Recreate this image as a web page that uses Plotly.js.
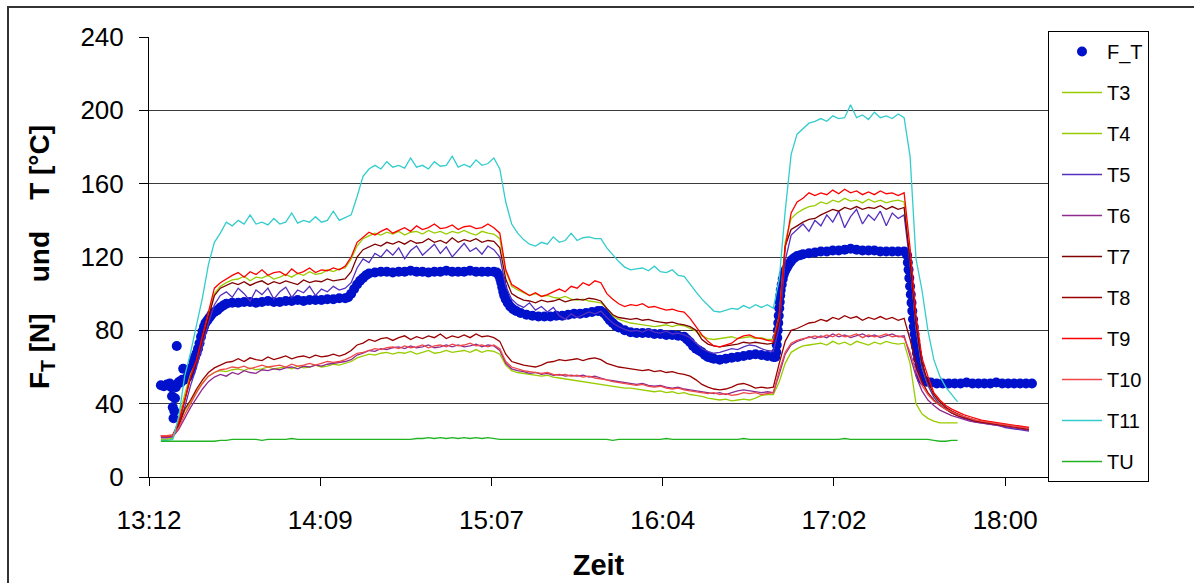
<!DOCTYPE html>
<html>
<head>
<meta charset="utf-8">
<script src="https://cdn.plot.ly/plotly-3.0.1.min.js"></script>
<style>
html, body { margin: 0; padding: 0; background: #ffffff; }
#chart { width: 1194px; height: 583px; }
</style>
</head>
<body>
<div id="chart"></div>
<script>
// ---- Zeitraster der Temperaturmessungen (alle 2 min) ----
const zeit = [
  '13:16','13:18','13:20','13:22','13:24','13:26','13:28','13:30','13:32','13:34',
  '13:36','13:38','13:40','13:42','13:44','13:46','13:48','13:50','13:52','13:54',
  '13:56','13:58','14:00','14:02','14:04','14:06','14:08','14:10','14:12','14:14',
  '14:16','14:18','14:20','14:22','14:24','14:26','14:28','14:30','14:32','14:34',
  '14:36','14:38','14:40','14:42','14:44','14:46','14:48','14:50','14:52','14:54',
  '14:56','14:58','15:00','15:02','15:04','15:06','15:08','15:10','15:12','15:14',
  '15:16','15:18','15:20','15:22','15:24','15:26','15:28','15:30','15:32','15:34',
  '15:36','15:38','15:40','15:42','15:44','15:46','15:48','15:50','15:52','15:54',
  '15:56','15:58','16:00','16:02','16:04','16:06','16:08','16:10','16:12','16:14',
  '16:16','16:18','16:20','16:22','16:24','16:26','16:28','16:30','16:32','16:34',
  '16:36','16:38','16:40','16:42','16:44','16:46','16:48','16:50','16:52','16:54',
  '16:56','16:58','17:00','17:02','17:04','17:06','17:08','17:10','17:12','17:14',
  '17:16','17:18','17:20','17:22','17:24','17:26','17:28','17:30','17:32','17:34',
  '17:36','17:38','17:40','17:42','17:44','17:46','17:48','17:50','17:52','17:54',
  '17:56','17:58','18:00','18:02','18:04','18:06','18:08'
];

const T3 = [
  20.5,20.5,21,32,45,56,63,76,89,100,
  104,106,107.5,108,109.5,107,109,108.5,110,108,
  109,110.5,109,111,110,112,110.5,111,113,112,
  113.5,114,119,126,130,131.5,133,132,133.5,132.5,
  134,132,133.5,134,132.5,134.5,133,134,132.5,134,
  133,134.5,133,132,134,133,132.5,130,112,104,
  102,100.5,99,100,98.5,99,98,97.5,98.5,97,
  96.5,97,96,95.5,95,92,88,86,85,84,
  83.5,83,82.5,82,82.5,83,82,83,82.5,81,
  79.5,77,75.5,75,75.5,76,76.5,75.5,76,76.5,
  75.5,76,75,75,88,128,141,144,146,147.5,
  148,150,149,151,150,152,150.5,151,149.5,151.5,
  150,151,149.5,150.5,151,150,118,82,60,50,
  44,40,37,35,33.5
];

const T4 = [
  20.5,20.5,21,29,36,41,47,51.5,55,57,
  58,57.5,58.5,59,58,59.5,58.5,59,60,59,
  59.5,60,59,60.5,59.5,60,61,60,60.5,61.5,
  61,62,63,65,66,67,66.5,67.5,68,67,
  68,67.5,68.5,67,68,69,67.5,68,69,68,
  68.5,69,68,69.5,68,69,68.5,67,61,58,
  57,56.5,56,55.5,55,55.5,54.5,54,53.5,53,
  52.5,52,51.5,51,50.5,50,49.5,49,48.5,48.5,
  48,47.5,47,46.5,47,46,46.5,45.5,46,45,
  44.5,44,43,42.5,42,42.5,41.5,42,42.5,42,
  43,44.5,45,45,52,62,68,70,71.5,72,
  72.5,73,72,74,72.5,73.5,72,74,73,72,
  73.5,72.5,74,73,72.5,73,62,40,34.5,32,
  30.5,29.5,29.5,29.5,29.5
];

const T5 = [
  21.5,21.5,22,28,38,50,60,72,84,94,
  99,101,98,103,100,96,102,99.5,103,97,
  101,103.5,98,102,100.5,104,99,102.5,101,104,
  102,103,106,114,119,117,122,120,124,121,
  125,119,123.5,126,121,124,127,122,125.5,120,
  124,127.5,123,125,121.5,126,124,120,104,97,
  94,92.5,95,91,93,90,92.5,88,86,89,
  87,88.5,90,89,90.5,87,84,82,80.5,79.5,
  80,79,80.5,79,78.5,79.5,78,78.5,77.5,76,
  73,70,68.5,67.5,68,69,70,69.5,71,72,
  71.5,70,69,68.5,82,118,132,135,138,134,
  140,137,143,139,145,136,142,146,138,143,
  140,145,137,144,141,143,116,82,60,50,
  43.5,39.5,37,35,33.5,32,31,30,29.5,29,
  28.5,28,27,26.5,26,25.5,25
];

const T6 = [
  21.5,21.5,22,26,32,38,43,48,52,54.5,
  56,55,57,56,58,57,56.5,58.5,58,59,
  58.5,59.5,60,59,60.5,60,61,60.5,61.5,62,
  62.5,63,64,66.5,67.5,69,68.5,70,69.5,70.5,
  71,70,71.5,70.5,71,72,70.5,71,72,71,
  72,71,71.5,72.5,71,72,71.5,69,62,59,
  58,57.5,56.5,57,56,56.5,55.5,56,55,55.5,
  55,55.5,54.5,55,54,53,52.5,52,51.5,51,
  50.5,51,50,49.5,50,49,48.5,49,48,47.5,
  47,46.5,46,45.5,46,45,46,47,47.5,47,
  46.5,46,46.5,46,56,67,72,74,75,76.5,
  75.5,77,76,78,76.5,77.5,76,77,78,76.5,
  77.5,76,77,78,76.5,77,66,55,47,42,
  39,36.5,35,33.5,32.5,31.5,30.5,30,29.5,29,
  28.5,28,27.5,27,26.5,26,25.5
];

const T7 = [
  22.5,22.5,22.5,29,41,54,63,75,88,99,
  103,104.5,106,105,106.5,104.5,106,107,105,106.5,
  105.5,107,106,105,107.5,106,107,106.5,108,107,
  107.5,108,112,120,124,125.5,127,126,128,127,
  128.5,127,129,127.5,128,130,128,129,127.5,130.5,
  128,129.5,128.5,130,128,129,128.5,125,108,100,
  98,96.5,96,95,96.5,95.5,96,97,95.5,96.5,
  97,96.5,97.5,97,96,92,88.5,87,86.5,86,
  86.5,85.5,86,85,84.5,84,84.5,83.5,83,82,
  80,75,72.5,71.5,71,71.5,72,72.5,73.5,73,
  73.5,73,72.5,73,85,126,135,137,139,140.5,
  141,143,144.5,146,145,147,146,147.5,146,147,
  146.5,148,146,147.5,146,147,118,84,62,52,
  45,41,38,36,34.5,33,32,31,30.5,30,
  29.5,29,28.5,28,27.5,27,26.5
];

const T8 = [
  22.5,22.5,22.5,28,37,42,48,53,57,59.5,
  61,62.5,63,64.5,63,65,64,63.5,65.5,64,
  65,66,64.5,65.5,66,65,66.5,65.5,66,67,
  66,67,69,72,73,75,74,75.5,76,74.5,
  76,77,75,76.5,75.5,77,76,78,75.5,77,
  76,77.5,76,78,76.5,77,76,74,67,63,
  62,61,60.5,60,61,62.5,63,64,63.5,64,
  64.5,63.5,64.5,65,64,62,61,60,59.5,59,
  58.5,58,58.5,57.5,58,57,57.5,56.5,56,55,
  53,50.5,49,48,47.5,48,49,50.5,51,50,
  48.5,49,48.5,49,62,74,80,81,82.5,84,
  84.5,86,85,87,86,88,86.5,87.5,85.5,87,
  86,87.5,86,87,85.5,86.5,75,62,52,46,
  42,39,37,35,33.5,32.5,31.5,30.5,30,29.5,
  29,28.5,28,27.5,27,26.5,26
];

const T9 = [
  22.5,22.5,23,30,42,55,64,77,90,103,
  106,108,110,111.5,109,112,110.5,113,110,111.5,
  112,110,113.5,111,112,114,111.5,113,112.5,114,
  113,115,120,128,131,133.5,132,134,135.5,133,
  134.5,136,134,137,135,136,138,135.5,136,137.5,
  135,136.5,137,135.5,136,138,136,133,113,105,
  103,101,99,100.5,98.5,99.5,101,102.5,101,104,
  103,106,104.5,107,106,100,97,94.5,93,94,
  93.5,94.5,92.5,93,92,91,91.5,90.5,90,86.5,
  82,77.5,74,71.5,71,72,73,75.5,77,77.5,
  76,75.5,74.5,74,88,125,144,150,152,155,
  153.5,155,154,156.5,154.5,157,155,156,154,155.5,
  154,156,154.5,155,153.5,155,125,88,65,55,
  46,42,39,37,35.5,34,33,32,31,30.5,
  30,29.5,29,28.5,28,27.5,27
];

const T10 = [
  22.5,22.5,22.5,27,34,40,46,51,55,57,
  58.5,59,60,59.5,60.5,59,60,61,60,60.5,
  61,60,61.5,60.5,61,62,61,62,63,62.5,
  63,64,65.5,67.5,68,69,70,69.5,70.5,71,
  70,71.5,70.5,71,72,70.5,71.5,72,71,72.5,
  71.5,72,73,71.5,72,71,72,70,63,60,
  59,58,57.5,57,56.5,57,56,55.5,56,55,
  55.5,54.5,55,54,53.5,53,52,51.5,51,50.5,
  50,50.5,49.5,49,49.5,48.5,48,48.5,47.5,47,
  46.5,46,45.5,46,45,45.5,44.5,45,46,45.5,
  46,45,45.5,46,58,68,73,74.5,75.5,76,
  77,76,77.5,76.5,78,76.5,77,78,76,77.5,
  76.5,77,78,76.5,77,76,68,58,50,45,
  41.5,39,37,35.5,34,33,32,31,30.5,30,
  29.5,29,28.5,28,27.5,27,26.5
];

const T11 = [
  20,20,20.5,33,55,68,83,98,116,128,
  133,139,137,140,138,143,138,139,137.5,141,
  138,139,144,138.5,140,139,142,139,140,145,
  140,141.5,143,153,164,168,170,168,172,169,
  170,168.5,174,169,170,168,172,169.5,170,175,
  169,170.5,169,173,170,171,174,168,150,138,
  133,129.5,127,126,128,127,131,128,129,133,
  129,130.5,131,130,130,125,121,117.5,114.5,113,
  113.5,114,112.5,115,112,111.5,113,110,109.5,105,
  101,97,94,90.5,90,91,92,91.5,93.5,92,
  94,92.5,94,92,108,145,176,187,190,193,
  194,195.5,194,197,195.5,196,203,196,197.5,195,
  199,196,197,195.5,198,196,175,119,102,80,
  64,55,49,45,41
];

const TU = [
  19.5,19.5,19.5,19.5,19.5,19.5,19.5,19.5,19.5,19.5,
  20,20,20.5,20.5,20.5,20.5,20.5,20,20.5,20.5,
  20.5,20.5,21,20.5,20.5,20.5,20.5,20.5,20.5,20.5,
  20.5,20.5,20.5,20.5,20.5,20.5,20.5,20.5,20.5,20.5,
  20.5,20.5,20.5,21,21,21.5,21,21.5,21,21.5,
  21,21.5,21,21.5,21,21.5,21,20.5,20.5,20.5,
  20.5,20.5,20.5,20.5,20.5,20.5,20.5,20.5,20.5,20.5,
  20.5,20.5,20.5,20.5,20.5,20.5,20,20.5,20.5,20.5,
  20.5,20.5,20.5,20.5,20.5,21,20.5,20.5,20.5,20.5,
  20.5,20.5,20.5,20.5,20.5,20.5,20.5,20.5,21,20.5,
  20.5,20.5,20.5,20.5,20.5,20.5,20.5,20.5,20.5,20.5,
  20.5,20.5,20.5,20.5,20.5,21,20.5,20.5,20.5,20.5,
  20.5,20.5,20.5,20.5,20.5,20.5,20.5,20.5,20.5,20.5,
  20,19.5,19.5,20,20
];

// ---- Kraft F_T (eigene Zeitpunkte, dichter bei den Sprüngen) ----
const zeitF = [
  '13:16:00','13:17:00','13:18:00','13:19:00','13:19:30','13:19:45','13:20:00','13:20:15','13:20:30','13:20:45',
  '13:21:00','13:21:20','13:21:40','13:22:10','13:22:40','13:23:10','13:23:30','13:23:50','13:24:20','13:25:00',
  '13:25:30','13:26:00','13:26:30','13:27:00','13:27:30','13:28:00','13:28:30','13:29:00','13:29:30','13:30:00',
  '13:30:30','13:31:00','13:31:40','13:32:20','13:33:00','13:34:00','13:35:00','13:36:00','13:37:00','13:38:00',
  '13:40:00','13:42:00','13:44:00','13:46:00','13:48:00','13:50:00','13:52:00','13:54:00','13:56:00','13:58:00',
  '14:00:00','14:02:00','14:04:00','14:06:00','14:08:00','14:10:00','14:12:00','14:14:00','14:16:00','14:18:00',
  '14:19:00','14:20:00','14:21:00','14:22:00','14:23:00','14:24:00','14:25:00','14:26:00','14:28:00','14:30:00',
  '14:32:00','14:34:00','14:36:00','14:38:00','14:40:00','14:42:00','14:44:00','14:46:00','14:48:00','14:50:00',
  '14:52:00','14:54:00','14:56:00','14:58:00','15:00:00','15:02:00','15:04:00','15:06:00','15:08:00','15:09:00',
  '15:09:40','15:10:10','15:10:30','15:10:50','15:11:10','15:11:30','15:12:00','15:12:40','15:13:30','15:14:30',
  '15:15:30','15:17:00','15:19:00','15:21:00','15:23:00','15:25:00','15:27:00','15:29:00','15:31:00','15:33:00',
  '15:35:00','15:37:00','15:39:00','15:41:00','15:43:00','15:44:00','15:45:00','15:45:40','15:46:20','15:47:00',
  '15:48:00','15:49:00','15:50:00','15:52:00','15:54:00','15:56:00','15:58:00','16:00:00','16:02:00','16:04:00',
  '16:06:00','16:08:00','16:10:00','16:12:00','16:13:00','16:14:00','16:15:00','16:16:00','16:17:00','16:18:00',
  '16:19:00','16:20:00','16:21:00','16:22:00','16:24:00','16:26:00','16:28:00','16:30:00','16:32:00','16:34:00',
  '16:36:00','16:38:00','16:40:00','16:42:00','16:42:40','16:43:00','16:43:10','16:43:20','16:43:30','16:43:40',
  '16:43:50','16:44:00','16:44:10','16:44:20','16:44:30','16:44:50','16:45:10','16:45:30','16:46:00','16:46:30',
  '16:47:00','16:47:40','16:48:20','16:49:00','16:50:00','16:51:00','16:52:00','16:54:00','16:56:00','16:58:00',
  '17:00:00','17:02:00','17:04:00','17:06:00','17:08:00','17:10:00','17:12:00','17:14:00','17:16:00','17:18:00',
  '17:20:00','17:22:00','17:24:00','17:26:00','17:26:40','17:27:00','17:27:15','17:27:30','17:27:45','17:28:00',
  '17:28:15','17:28:30','17:28:45','17:29:00','17:29:15','17:29:30','17:29:45','17:30:00','17:30:20','17:30:40',
  '17:31:00','17:31:20','17:31:40','17:32:00','17:32:40','17:33:30','17:35:00','17:37:00','17:39:00','17:41:00',
  '17:43:00','17:45:00','17:47:00','17:49:00','17:51:00','17:53:00','17:55:00','17:57:00','17:59:00','18:01:00',
  '18:03:00','18:05:00','18:07:00','18:09:00'
];

const F_T = [
  50,49.5,50.5,51,49,44,38,32,36,43,
  49,71.5,51,52,51.5,53,59,53,53.5,54.5,
  56,57.5,60,63,65.5,67.5,70,73,76.5,79.5,
  82,84,85.5,87,88.5,90,91,92.5,93.5,94.5,
  95,95,95.5,95.5,95,95.5,96,95.5,95.5,96,
  96,96.5,96,96.5,96.5,96.5,97,97,97.5,97.5,
  98,100,102.5,105,107,108.5,110,111,111.5,112,
  112,111.5,112,112,112.5,112,112,111.5,112,112,
  112.5,112,112,112,112.5,112,112,112,112,111.5,
  110,108,106,103.5,101,99,97,95,93,91.5,
  90.5,89.5,88.5,88,87.5,87.5,87.5,88,88,88.5,
  89,89,89.5,90,90.5,90.5,89.5,88.5,87,85.5,
  84,82.5,81.5,80,79,78.5,78.5,78.5,78,78,
  77.5,77.5,77,76.5,75,73.5,71.5,70,69,68,
  66.5,65.5,65,64.5,64,64.5,65,65.5,66,66.5,
  67,66.5,66,65.5,65.5,68,72,76,80,84,
  88,92,95.5,99,102,105,108,110.5,112.5,114,
  115.5,117,118.5,119.5,120.5,121,121.5,122,122.5,123,
  123,123.5,123.5,124,124.5,124,123.5,123.5,123.5,123,
  123,123,123,123,122.5,121,117,113,108.5,104,
  99.5,95,90.5,86,82,78,74.5,71,67.5,64.5,
  61,58,55.5,53.5,52.5,52,51.5,51,51,51,
  51,51,51.5,51,51,51,51,51.5,51,51,
  51,51,51,51
];

// ---- Achsenbeschriftung ----
const tickZeiten = ['13:12:00','14:09:36','15:07:12','16:04:48','17:02:24','18:00:00'];
const tickTexte  = ['13:12','14:09','15:07','16:04','17:02','18:00'];
const yTicks     = [0, 40, 80, 120, 160, 200, 240];

// ---- Darstellung ----
const tag = '2009-01-01 ';
const toX = arr => arr.map(t => tag + (t.length === 5 ? t + ':00' : t));

const serien = [
  { name: 'T3',  y: T3,  color: '#99CC00' },
  { name: 'T4',  y: T4,  color: '#99CC00' },
  { name: 'T5',  y: T5,  color: '#5530C0' },
  { name: 'T6',  y: T6,  color: '#8E2B8E' },
  { name: 'T7',  y: T7,  color: '#800000' },
  { name: 'T8',  y: T8,  color: '#990000' },
  { name: 'T9',  y: T9,  color: '#FF0000' },
  { name: 'T10', y: T10, color: '#F04848' },
  { name: 'T11', y: T11, color: '#33CCCC' },
  { name: 'TU',  y: TU,  color: '#22B322' }
];

const xGrid = toX(zeit);
const traces = [{
  type: 'scatter', mode: 'markers', name: 'F_T', legendgroup: 'F_T',
  x: toX(zeitF), y: F_T,
  marker: { color: '#0011CC', size: 10 }
}];
serien.forEach(s => {
  traces.push({
    type: 'scatter', mode: 'lines', name: s.name, legendgroup: s.name,
    x: xGrid, y: s.y,
    line: { color: s.color, width: 1.3 }
  });
});

const W = 1194, H = 583;
const pL = 149, pR = 1048, pT = 37, pB = 477;
const px2x = p => (p - pL) / (pR - pL);
const py2y = p => (pB - p) / (pB - pT);

const layout = {
  width: W, height: H,
  margin: { l: pL, r: W - pR, t: pT, b: H - pB },
  paper_bgcolor: '#ffffff', plot_bgcolor: '#ffffff',
  font: { family: 'Liberation Sans, Arial, sans-serif', color: '#000000' },
  showlegend: true,
  legend: {
    xref: 'container', yref: 'container',
    x: 1048 / W, xanchor: 'left', y: (H - 31) / H, yanchor: 'top',
    maxheight: 520,
    bordercolor: '#000000', borderwidth: 1, bgcolor: '#ffffff',
    font: { size: 20, color: '#000000' },
    tracegroupgap: 12, itemwidth: 40, indentation: 8,
    traceorder: 'grouped', itemsizing: 'trace'
  },
  xaxis: {
    type: 'date',
    range: [tag + '13:12:00', tag + '18:14:24'],
    tickmode: 'array', tickvals: toX(tickZeiten), ticktext: tickTexte,
    ticks: 'outside', ticklen: 8, tickcolor: '#000000', tickwidth: 1,
    ticklabelstandoff: 12,
    showline: true, linecolor: '#000000', linewidth: 1,
    showgrid: false, zeroline: false,
    tickfont: { size: 26 },
    title: { text: '<b>Zeit</b>', font: { size: 29 }, standoff: 20 },
    automargin: false
  },
  yaxis: {
    range: [0, 240],
    tickmode: 'array', tickvals: yTicks,
    ticks: 'outside', ticklen: 9, tickcolor: '#000000', tickwidth: 1,
    ticklabelstandoff: 10,
    showline: true, linecolor: '#000000', linewidth: 1,
    showgrid: true, gridcolor: '#3a3a3a', gridwidth: 1, zeroline: false,
    tickfont: { size: 26 },
    title: { text: '<b>F<sub>T</sub> [N]\u00a0\u00a0\u00a0\u00a0und\u00a0\u00a0\u00a0\u00a0T [°C]</b>', font: { size: 28 }, standoff: 22 },
    automargin: false
  },
  shapes: [{
    type: 'rect', xref: 'paper', yref: 'paper',
    x0: px2x(8), x1: px2x(1210), y0: py2y(600), y1: py2y(7),
    line: { color: '#333333', width: 2 }, fillcolor: 'rgba(0,0,0,0)', layer: 'below'
  }]
};

Plotly.newPlot('chart', traces, layout, { displayModeBar: false, staticPlot: true });
</script>
</body>
</html>
